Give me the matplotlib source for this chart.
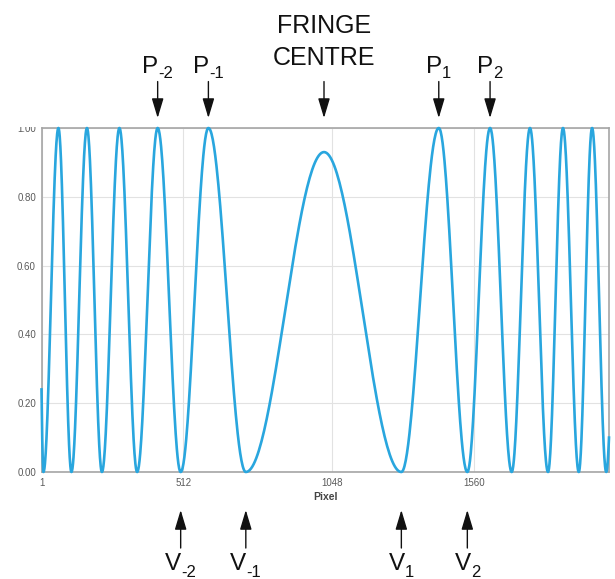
import numpy as np
import matplotlib
matplotlib.use("Agg")
import matplotlib.pyplot as plt
from matplotlib.transforms import blended_transform_factory, offset_copy
from matplotlib.patches import Rectangle

plt.rcParams['font.family'] = ['Liberation Sans', 'DejaVu Sans']

# ---- data: fringe extrema (pixel, intensity) ----
ext_pixel = [1, 8, 62, 109, 165, 219, 282, 346, 420, 503, 603, 738, 1020,
             1299, 1434, 1537, 1619, 1697, 1763, 1828, 1882, 1939, 1987, 2038, 2048]
ext_value = [0.24, 0.0, 1.0, 0.0, 1.0, 0.0, 1.0, 0.0, 1.0, 0.0, 1.0, 0.0, 0.93,
             0.0, 1.0, 0.0, 1.0, 0.0, 1.0, 0.0, 1.0, 0.0, 1.0, 0.0, 0.10]

x_ticks = [1, 512, 1048, 1560]
x_tick_labels = ['1', '512', '1048', '1560']
y_ticks = [0.0, 0.2, 0.4, 0.6, 0.8, 1.0]
y_tick_labels = ['0.00', '0.20', '0.40', '0.60', '0.80', '1.00']

peak_x = [420, 603, 1434, 1619]
peak_sub = ['-2', '-1', '1', '2']
valley_x = [503, 738, 1299, 1537]
valley_sub = ['-2', '-1', '1', '2']
centre_x = 1020
centre_lines = ['FRINGE', 'CENTRE']

# smooth line through the extrema (cosine-shaped segments)
xs, ys = [], []
n_seg = len(ext_pixel) - 1
for i in range(n_seg):
    x0, x1 = ext_pixel[i], ext_pixel[i + 1]
    y0, y1 = ext_value[i], ext_value[i + 1]
    t = np.linspace(0, 1, 60, endpoint=(i == n_seg - 1))
    if i == 0:
        # partial fringe entering at the left edge: descending from a crest
        s0 = np.arccos(2 * y0 - 1) / np.pi
        s = s0 + (1 - s0) * t
        xs.append(x0 + (x1 - x0) * t)
        ys.append((1 + np.cos(np.pi * s)) / 2)
    elif i == n_seg - 1:
        # partial fringe leaving at the right edge: rising from a minimum
        s1 = np.arccos(1 - 2 * y1) / np.pi
        s = s1 * t
        xs.append(x0 + (x1 - x0) * t)
        ys.append((1 - np.cos(np.pi * s)) / 2)
    else:
        xs.append(x0 + (x1 - x0) * t)
        ys.append(y0 + (y1 - y0) * (1 - np.cos(np.pi * t)) / 2)
xs = np.concatenate(xs)
ys = np.concatenate(ys)

W, H = 615, 579
fig = plt.figure(figsize=(W / 100, H / 100), dpi=100)
ax = fig.add_axes([41.5 / W, 107 / H, 567.5 / W, 344 / H])

ax.plot(xs, ys, color='#29a6de', lw=1.9, clip_on=False, zorder=3,
        solid_joinstyle='round')

ax.set_xlim(1, 2048)
ax.set_ylim(0, 1)
ax.set_xticks(x_ticks)
ax.set_xticklabels(x_tick_labels)
ax.set_yticks(y_ticks)
ax.set_yticklabels(y_tick_labels)
ax.tick_params(length=0, labelsize=7, labelcolor='#5a5a5a', pad=4)
ax.grid(True, color='#e2e2e2', lw=0.8, zorder=0)
for s in ax.spines.values():
    s.set_color('#a5a5a5')
    s.set_linewidth(1.2)
ax.set_xlabel('Pixel', fontsize=7.5, fontweight='bold', color='#444444', labelpad=3)

trans = blended_transform_factory(ax.transData, ax.transAxes)
arrow_kw = dict(arrowstyle='-|>,head_length=0.6,head_width=0.18',
                mutation_scale=20, color='#111111', lw=1.0,
                shrinkA=0, shrinkB=0)

# top arrows
for xv in peak_x + [centre_x]:
    ax.annotate('', xy=(xv, 1.029), xytext=(xv, 1.135), xycoords=trans,
                textcoords=trans, arrowprops=arrow_kw, annotation_clip=False)
# bottom arrows
for xv in valley_x:
    ax.annotate('', xy=(xv, -0.1105), xytext=(xv, -0.221), xycoords=trans,
                textcoords=trans, arrowprops=arrow_kw, annotation_clip=False)

# centre label
ax.text(centre_x, 1.276, centre_lines[0], transform=trans, ha='center',
        va='baseline', fontsize=18, color='#111111')
ax.text(centre_x, 1.183, centre_lines[1], transform=trans, ha='center',
        va='baseline', fontsize=18, color='#111111')

pairs = []
for xv, sb in zip(peak_x, peak_sub):
    t1 = ax.text(xv, 1.159, 'P', transform=trans, ha='left', va='baseline',
                 fontsize=17.5, color='#111111')
    t2 = ax.text(xv, 1.159, sb, transform=trans, ha='left', va='baseline',
                 fontsize=12, color='#111111')
    pairs.append((t1, t2, 5))
for xv, sb in zip(valley_x, valley_sub):
    t1 = ax.text(xv, -0.285, 'V', transform=trans, ha='left', va='baseline',
                 fontsize=17.5, color='#111111')
    t2 = ax.text(xv, -0.285, sb, transform=trans, ha='left', va='baseline',
                 fontsize=12, color='#111111')
    pairs.append((t1, t2, 7))

fig.canvas.draw()
r = fig.canvas.get_renderer()
for t1, t2, drop in pairs:
    w1 = t1.get_window_extent(r).width
    w2 = t2.get_window_extent(r).width
    total = w1 + w2
    t1.set_transform(offset_copy(trans, fig=fig, x=-total / 2, y=0, units='dots'))
    t2.set_transform(offset_copy(trans, fig=fig, x=-total / 2 + w1, y=-drop, units='dots'))

# the top tick label is partly hidden in the reference
fig.patches.append(Rectangle((0, (H - 126.5) / H), 39 / W, 126.5 / H,
                             transform=fig.transFigure, facecolor='white',
                             edgecolor='none', zorder=10))

fig.savefig('out.png', dpi=100)
